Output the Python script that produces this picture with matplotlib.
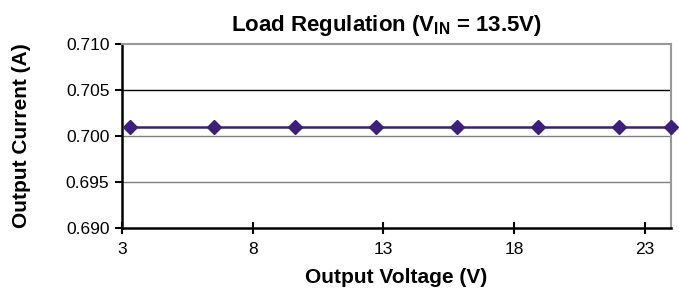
import matplotlib
matplotlib.use("Agg")
import matplotlib.pyplot as plt

# ─── data ──────────────────────────────────────────────────────
out_voltage = [3.3, 6.5, 9.6, 12.7, 15.8, 18.9, 22.0, 24.0]
out_current = [0.701, 0.701, 0.701, 0.701, 0.701, 0.701, 0.701, 0.701]
x_ticks     = [3, 8, 13, 18, 23]
y_ticks     = [0.690, 0.695, 0.700, 0.705, 0.710]

plt.rcParams["font.family"] = ["Liberation Sans", "DejaVu Sans"]
plt.rcParams["mathtext.fontset"] = "custom"
plt.rcParams["mathtext.rm"] = "Liberation Sans"
plt.rcParams["mathtext.bf"] = "Liberation Sans:bold"

fig = plt.figure(figsize=(6.79, 2.90), dpi=100)
ax = fig.add_axes([122 / 679, 1 - 228 / 290, (671 - 122) / 679, (228 - 44) / 290])

line_col = "#3b1f7a"
ax.plot(out_voltage, out_current, color=line_col, lw=1.8,
        marker="D", ms=7, mfc=line_col, mec=line_col, clip_on=False, zorder=5)

ax.set_xlim(3, 24)
ax.set_ylim(0.690, 0.710)
ax.set_xticks(x_ticks)
ax.set_yticks(y_ticks)
ax.set_yticklabels([f"{v:.3f}" for v in y_ticks])

# gridlines
for y, c in [(0.695, "#808080"), (0.700, "#808080"), (0.705, "#000000")]:
    ax.axhline(y, color=c, lw=1.0, zorder=1)

ax.spines["left"].set_linewidth(1.8)
ax.spines["bottom"].set_linewidth(1.8)
ax.spines["top"].set_color("#999999")
ax.spines["top"].set_linewidth(1.5)
ax.spines["right"].set_color("#999999")
ax.spines["right"].set_linewidth(1.5)

ax.tick_params(axis="x", direction="inout", length=8, width=1.5,
               labelsize=12.5, pad=6)
ax.tick_params(axis="y", direction="out", length=5, width=1.5,
               labelsize=12.5, pad=4)

ax.set_title(r"Load Regulation (V$_{\bf IN}$ = 13.5V)",
             fontsize=16, fontweight="bold", pad=9, x=0.481)
ax.set_xlabel("Output Voltage (V)", fontsize=15, fontweight="bold", labelpad=8)
ax.set_ylabel("Output Current (A)", fontsize=15, fontweight="bold", labelpad=25)

fig.savefig("out.png", dpi=100)
